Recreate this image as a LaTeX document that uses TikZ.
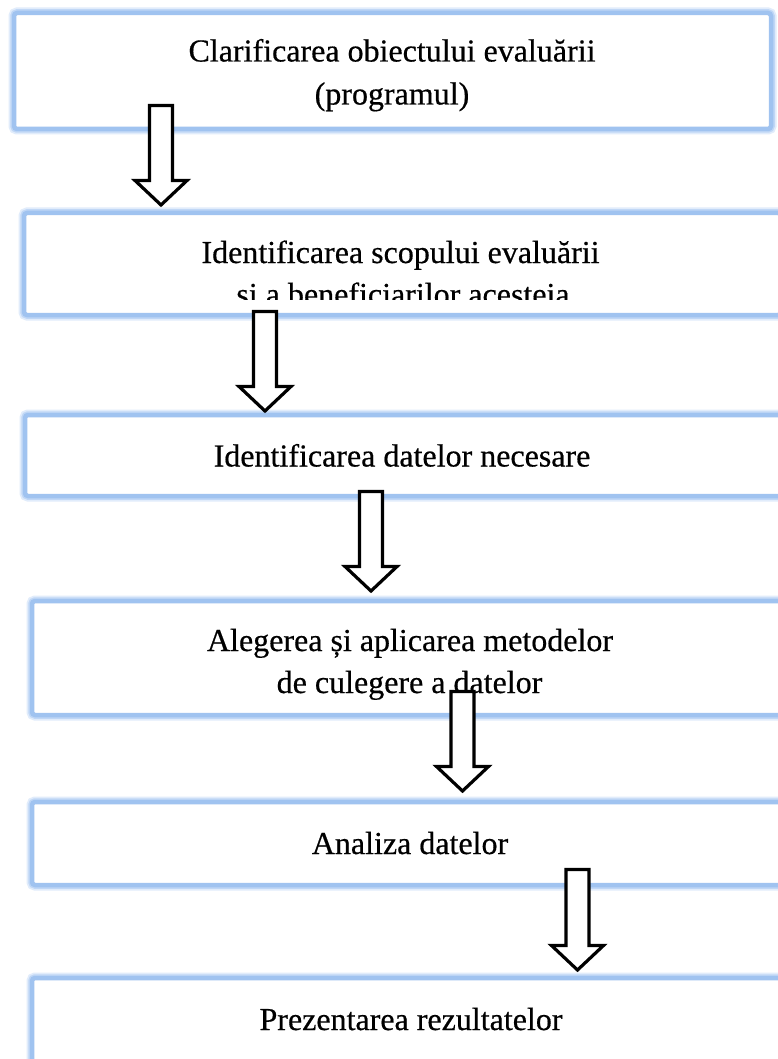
\documentclass[tikz,border=0pt]{standalone}
\usepackage{fontspec}
\setmainfont[FakeBold=0.5]{Liberation Serif}
\usetikzlibrary{calc}
\definecolor{bordc}{RGB}{160,195,240}
\definecolor{glowa}{RGB}{225,236,251}
\definecolor{glowb}{RGB}{192,215,246}
\tikzset{
  boxnode/.style={rectangle, rounded corners=3pt, draw=bordc, line width=4.5pt, fill=white,
    minimum width=757pt, inner sep=0pt,
    preaction={draw=glowa, line width=11pt},
    preaction={draw=glowb, line width=7.5pt}},
  txt/.style={anchor=base, inner sep=0pt, font=\fontsize{32}{41}\selectfont},
  blockarrow/.style={draw=black, line width=3.2pt, fill=white, line join=miter, miter limit=10},
}
\newcommand\blockarr[2]{%
  \draw[blockarrow] let \p1=(#1), \p2=(#2) in
    (\x1-11.5pt,\y1) -- (\x1+11.5pt,\y1) -- (\x1+11.5pt,\y2+24.5pt) --
    (\x1+26pt,\y2+24.5pt) -- (\x1,\y2) -- (\x1-26pt,\y2+24.5pt) --
    (\x1-11.5pt,\y2+24.5pt) -- cycle;}
\begin{document}
\begin{tikzpicture}[x=1pt,y=-1pt]
\useasboundingbox (0,0) rectangle (778,1059);
\clip (0,0) rectangle (778,1059);
\fill[white] (0,0) rectangle (778,1059);

% boxes
\node[boxnode, minimum height=116pt] (b1) at (392.5,71) {};
\node[boxnode, minimum height=102pt] (b2) at (402.5,264) {};
\node[boxnode, minimum height=81pt]  (b3) at (403.5,455.5) {};
\node[boxnode, minimum height=114pt] (b4) at (410.5,658) {};
\node[boxnode, minimum height=83pt]  (b5) at (410.5,843.5) {};
\node[boxnode, minimum height=122pt] (b6) at (410.5,1039) {};

% texts
\node[txt] (t1a) at (392,61.5) {Clarificarea obiectului evaluării};
\node[txt] (t1b) at (392,104.5) {(programul)};
\node[txt] (t2a) at (400.5,263) {Identificarea scopului evaluării};
\begin{scope}
  \clip (0,0) rectangle (778,299);
  \node[txt] (t2b) at (403,305) {și a beneficiarilor acesteia};
\end{scope}
\node[txt] (t3) at (402,466.5) {Identificarea datelor necesare};
\node[txt] (t4a) at (410,651) {Alegerea și aplicarea metodelor};
\node[txt] (t4b) at (409.5,693) {de culegere a datelor};
\node[txt] (t5) at (410,854) {Analiza datelor};
\node[txt] (t6) at (411,1030) {Prezentarea rezultatelor};

% arrows
\coordinate (a1s) at (161,105.5);   \coordinate (a1e) at (161,205);
\coordinate (a2s) at (265,311.5);   \coordinate (a2e) at (265,411);
\coordinate (a3s) at (371,491.5);   \coordinate (a3e) at (371,591);
\coordinate (a4s) at (462.5,691.5); \coordinate (a4e) at (462.5,791);
\coordinate (a5s) at (577.5,869.5); \coordinate (a5e) at (577.5,970);
\blockarr{a1s}{a1e}
\blockarr{a2s}{a2e}
\blockarr{a3s}{a3e}
\blockarr{a4s}{a4e}
\blockarr{a5s}{a5e}
\end{tikzpicture}
\end{document}
